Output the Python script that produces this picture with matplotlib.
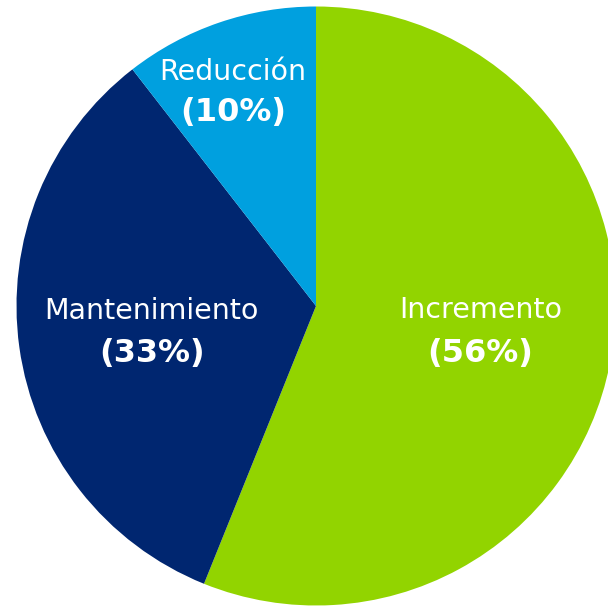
import matplotlib
matplotlib.use("Agg")
import matplotlib.pyplot as plt

# Data
categories = ["Incremento", "Mantenimiento", "Reducción"]
shares = [56.1, 33.4, 10.5]
pct_labels = ["(56%)", "(33%)", "(10%)"]
colors = ["#92D400", "#002670", "#00A0DF"]

# label anchor points (x center, name baseline, pct baseline) in pie units
label_pos = [(0.549, -0.040, -0.186), (-0.549, -0.043, -0.187), (-0.277, 0.755, 0.618)]

fig = plt.figure(figsize=(6.08, 6.06), dpi=100)
ax = fig.add_axes([16.5 / 608, 0.5 / 606, 599 / 608, 599 / 606])

ax.pie(shares, colors=colors, startangle=90, counterclock=False,
       radius=1, wedgeprops=dict(linewidth=0))

for name, pct, (x, y1, y2) in zip(categories, pct_labels, label_pos):
    ax.text(x, y1, name, ha="center", va="baseline", color="white",
            fontsize=20.5, family="DejaVu Sans")
    ax.text(x, y2, pct, ha="center", va="baseline", color="white",
            fontsize=23, fontweight="bold", family="DejaVu Sans")

ax.set_xlim(-1, 1)
ax.set_ylim(-1, 1)
ax.axis("off")

fig.savefig("out.png", dpi=100)
plt.close(fig)
